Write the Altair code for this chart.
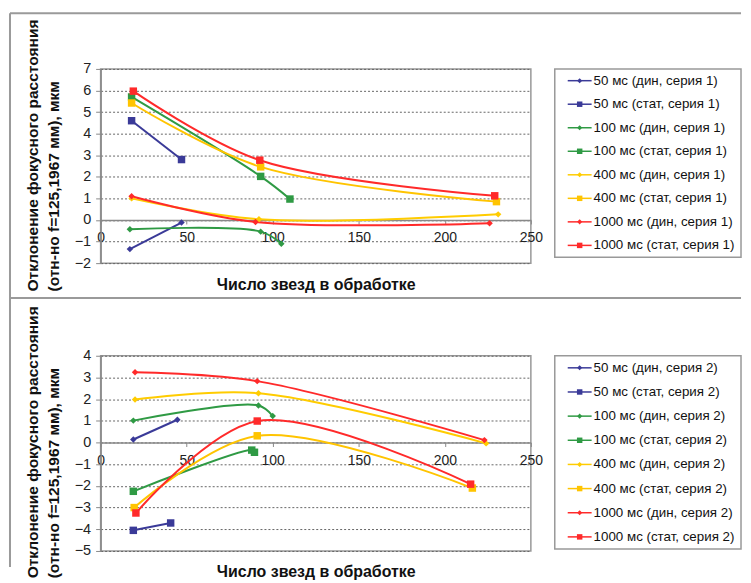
import altair as alt
import pandas as pd

# ---------------- data ----------------
names_1 = ["50 мс (дин, серия 1)", "50 мс (стат, серия 1)",
           "100 мс (дин, серия 1)", "100 мс (стат, серия 1)",
           "400 мс (дин, серия 1)", "400 мс (стат, серия 1)",
           "1000 мс (дин, серия 1)", "1000 мс (стат, серия 1)"]
names_2 = ["50 мс (дин, серия 2)", "50 мс (стат, серия 2)",
           "100 мс (дин, серия 2)", "100 мс (стат, серия 2)",
           "400 мс (дин, серия 2)", "400 мс (стат, серия 2)",
           "1000 мс (дин, серия 2)", "1000 мс (стат, серия 2)"]
kinds = ["дин", "стат", "дин", "стат", "дин", "стат", "дин", "стат"]

# series 1 (top chart)
x1 = [[17, 47], [18, 47], [17, 93, 105], [18, 93, 110],
      [18, 92, 231], [18, 93, 230], [18, 90, 226], [19, 92.5, 229]]
y1 = [[-1.35, -0.12], [4.6, 2.8], [-0.43, -0.54, -1.1], [5.7, 2.02, 0.97],
      [1.0, 0.03, 0.26], [5.42, 2.46, 0.85], [1.1, -0.09, -0.15], [5.97, 2.77, 1.12]]

# series 2 (bottom chart)
x2 = [[19, 44.6], [19, 40.7], [19, 91.7, 100], [19, 87.8, 89.4],
      [20, 91.7, 224], [19.5, 91, 216], [20, 91, 223], [20.5, 91, 215]]
y2 = [[0.14, 1.05], [-4.05, -3.71], [1.01, 1.71, 1.22], [-2.25, -0.35, -0.45],
      [1.98, 2.27, -0.04], [-3.0, 0.31, -2.1], [3.24, 2.83, 0.11], [-3.25, 0.99, -1.92]]

x_ticks = [0, 50, 100, 150, 200, 250]
y_ticks_1 = [-2, -1, 0, 1, 2, 3, 4, 5, 6, 7]
y_ticks_2 = [-5, -4, -3, -2, -1, 0, 1, 2, 3, 4]

x_title = "Число звезд в обработке"
y_title = ["Отклонение фокусного расстояния", "(отн-но f=125,1967 мм), мкм"]

# ---------------- styles ----------------
COLORS = ["#3a3a98", "#3a3a98", "#2f9a44", "#2f9a44",
          "#ffcc00", "#ffc400", "#ff2a2a", "#ff2a2a"]
FRAME = "#9a9a9a"
FONT = "Liberation Sans"
W = 432


def make_df(names, xs, ys):
    rows = []
    for n, k, xx, yy in zip(names, kinds, xs, ys):
        for i, (a, b) in enumerate(zip(xx, yy)):
            rows.append({"series": n, "kind": k, "x": a, "y": b, "idx": i})
    return pd.DataFrame(rows)


one = pd.DataFrame({"f": [0]})


def plot_panel(names, xs, ys, ydom, yticks, h, frames):
    df = make_df(names, xs, ys)
    below_zero = h * (-ydom[0]) / (ydom[1] - ydom[0])
    base = alt.Chart(df).encode(
        x=alt.X("x:Q", scale=alt.Scale(domain=[0, 250], nice=False),
                axis=alt.Axis(values=x_ticks, offset=-below_zero, grid=False,
                              domainColor="#888888", domainWidth=1.5,
                              tickColor="#888888", tickSize=4,
                              labelFontSize=14, labelPadding=7, labelColor="#222222",
                              labelFlush=False, labelOverlap=False,
                              title=x_title, titleFontSize=16, titleFontWeight="bold",
                              titleColor="#111111", titleBaseline="middle",
                              titleAlign="center", titleX=W / 2,
                              titleY=below_zero + 21)),
        y=alt.Y("y:Q", scale=alt.Scale(domain=ydom, nice=False, zero=False),
                axis=alt.Axis(values=yticks, grid=True, gridDash=[2, 2],
                              gridColor="#666666", gridWidth=1,
                              domainColor="#888888", domainWidth=1.5,
                              tickColor="#888888", tickSize=5,
                              labelFontSize=14.5, labelPadding=5, labelColor="#222222",
                              title=y_title, titleFontSize=15.6, titleFontWeight="bold",
                              titleColor="#111111", titleAngle=270, titleAlign="left",
                              titleBaseline="top", titleX=-75, titleY=223,
                              titleLineHeight=21)),
        color=alt.Color("series:N", scale=alt.Scale(domain=names, range=COLORS),
                        legend=None),
    )
    lines = base.mark_line(interpolate="catmull-rom", strokeWidth=2).encode(
        order="idx:Q")
    pts_d = base.transform_filter(alt.datum.kind == "дин").mark_point(
        shape="diamond", size=42, filled=True, opacity=1)
    pts_s = base.transform_filter(alt.datum.kind == "стат").mark_point(
        shape="square", size=56, filled=True, opacity=1)
    layers = [lines, pts_d, pts_s]
    for fr in frames:
        layers.append(alt.Chart(one).mark_rule(color=FRAME, strokeWidth=2).encode(**fr))
    return alt.layer(*layers).properties(width=W, height=h)


def legend_panel(names, h):
    df = pd.DataFrame({"series": names, "kind": kinds})
    base = alt.Chart(df).encode(
        y=alt.Y("series:N", sort=names, axis=None,
                scale=alt.Scale(type="point", domain=names, padding=0.5)),
        color=alt.Color("series:N", scale=alt.Scale(domain=names, range=COLORS),
                        legend=None),
    )
    rule = base.mark_rule(strokeWidth=1.5).encode(x=alt.value(13), x2=alt.value(37))
    pd_ = base.transform_filter(alt.datum.kind == "дин").mark_point(
        shape="diamond", size=26, filled=True, opacity=1).encode(x=alt.value(25))
    ps_ = base.transform_filter(alt.datum.kind == "стат").mark_point(
        shape="square", size=30, filled=True, opacity=1).encode(x=alt.value(25))
    txt = base.mark_text(align="left", baseline="middle", fontSize=13.4,
                         color="#111111", font=FONT).encode(
        x=alt.value(39), text="series:N", color=alt.value("#111111"))
    return alt.layer(rule, pd_, ps_, txt).properties(width=187, height=h)


top_frames = [
    dict(x=alt.value(-91), x2=alt.value(643), y=alt.value(-56)),
    dict(x=alt.value(-91), y=alt.value(-56), y2=alt.value(500)),
    dict(x=alt.value(-91), x2=alt.value(643), y=alt.value(230)),
]

chart = alt.concat(
    plot_panel(names_1, x1, y1, [-2, 7], y_ticks_1, 195, top_frames),
    legend_panel(names_1, 189),
    plot_panel(names_2, x2, y2, [-5, 4], y_ticks_2, 196, []),
    legend_panel(names_2, 194),
    columns=2, spacing={"row": 93, "column": 24}, bounds="flush",
).properties(
    padding={"left": 0, "top": 2, "right": 0, "bottom": 0},
    background="white",
).configure(font=FONT).configure_view(stroke="#999999", strokeWidth=1.5)

chart.save("out.html", embed_options={"renderer": "svg", "actions": False})
